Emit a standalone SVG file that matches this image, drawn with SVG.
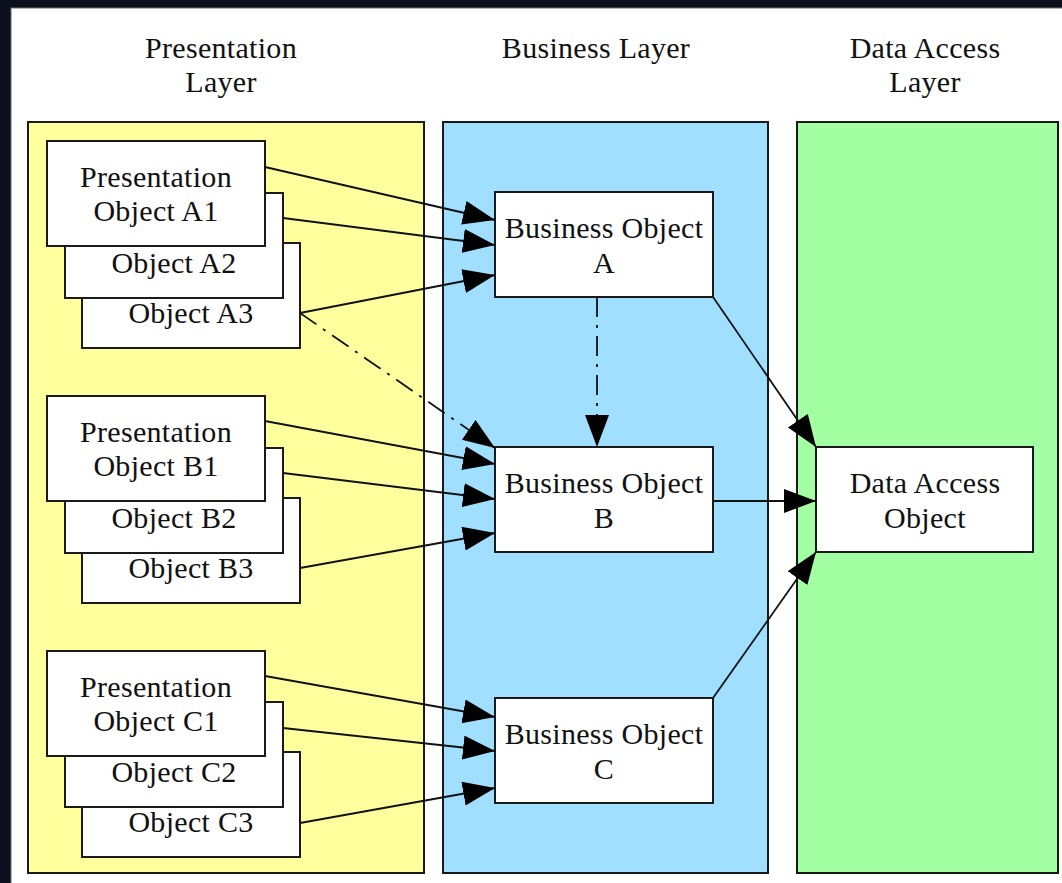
<svg xmlns="http://www.w3.org/2000/svg" width="1062" height="883" viewBox="0 0 1062 883">
  <style>
    .panel { stroke: #1a1a1a; stroke-width: 2; }
    .box { fill: #ffffff; stroke: #1a1a1a; stroke-width: 2; }
    .t { font-family: "Liberation Serif", "Times New Roman", serif; font-size: 30px; fill: #111; text-anchor: middle; letter-spacing: 0.3px; }
    .c { fill: none; stroke: #111; stroke-width: 1.8; }
    .dd { stroke-dasharray: 20 8 3 8; }
  </style>
  <defs>
    <marker id="arr" markerUnits="userSpaceOnUse" markerWidth="34" markerHeight="26" refX="32" refY="12" orient="auto">
      <path d="M0,0 L32,12 L0,24 Z" fill="#000"/>
    </marker>
  </defs>

  <!-- background -->
  <rect x="0" y="0" width="1062" height="883" fill="#0b101c"/>
  <rect x="11" y="8" width="1052" height="876" fill="#ffffff" stroke="#6b6b6b" stroke-width="1"/>

  <!-- layer headers -->
  <g id="hdr-presentation">
    <text class="t" x="221" y="58">Presentation</text>
    <text class="t" x="221" y="92">Layer</text>
  </g>
  <g id="hdr-business">
    <text class="t" x="596" y="58">Business Layer</text>
  </g>
  <g id="hdr-data">
    <text class="t" x="925" y="58">Data Access</text>
    <text class="t" x="925" y="92">Layer</text>
  </g>

  <!-- panels -->
  <g id="panel-presentation"><rect class="panel" x="28" y="122" width="396" height="751" fill="#ffff9e"/></g>
  <g id="panel-business"><rect class="panel" x="443" y="122" width="325" height="751" fill="#a0dfff"/></g>
  <g id="panel-data"><rect class="panel" x="797" y="122" width="261" height="751" fill="#a2ffa2"/></g>

  <!-- presentation objects group A -->
  <g id="pres-a3"><rect class="box" x="82" y="243" width="218" height="105"/><text class="t" x="191" y="323">Object A3</text></g>
  <g id="pres-a2"><rect class="box" x="65" y="193" width="218" height="105"/><text class="t" x="174" y="273">Object A2</text></g>
  <g id="pres-a1"><rect class="box" x="47" y="141" width="218" height="105"/><text class="t" x="156" y="187">Presentation</text><text class="t" x="156" y="221">Object A1</text></g>

  <!-- group B -->
  <g id="pres-b3"><rect class="box" x="82" y="498" width="218" height="105"/><text class="t" x="191" y="578">Object B3</text></g>
  <g id="pres-b2"><rect class="box" x="65" y="448" width="218" height="105"/><text class="t" x="174" y="528">Object B2</text></g>
  <g id="pres-b1"><rect class="box" x="47" y="396" width="218" height="105"/><text class="t" x="156" y="442">Presentation</text><text class="t" x="156" y="476">Object B1</text></g>

  <!-- group C -->
  <g id="pres-c3"><rect class="box" x="82" y="752" width="218" height="105"/><text class="t" x="191" y="832">Object C3</text></g>
  <g id="pres-c2"><rect class="box" x="65" y="702" width="218" height="105"/><text class="t" x="174" y="782">Object C2</text></g>
  <g id="pres-c1"><rect class="box" x="47" y="651" width="218" height="105"/><text class="t" x="156" y="697">Presentation</text><text class="t" x="156" y="731">Object C1</text></g>

  <!-- business objects -->
  <g id="bus-a"><rect class="box" x="495" y="192" width="218" height="105"/><text class="t" x="604" y="238">Business Object</text><text class="t" x="604" y="273">A</text></g>
  <g id="bus-b"><rect class="box" x="495" y="447" width="218" height="105"/><text class="t" x="604" y="493">Business Object</text><text class="t" x="604" y="528">B</text></g>
  <g id="bus-c"><rect class="box" x="495" y="698" width="218" height="105"/><text class="t" x="604" y="744">Business Object</text><text class="t" x="604" y="779">C</text></g>

  <!-- data access object -->
  <g id="dao"><rect class="box" x="816" y="447" width="217" height="105"/><text class="t" x="925" y="493">Data Access</text><text class="t" x="925" y="528">Object</text></g>

  <!-- connectors -->
  <g id="connectors">
    <line class="c" x1="265" y1="167" x2="495" y2="220" marker-end="url(#arr)"/>
    <line class="c" x1="283" y1="218" x2="495" y2="245" marker-end="url(#arr)"/>
    <line class="c" x1="300" y1="313" x2="495" y2="275" marker-end="url(#arr)"/>
    <line class="c dd" x1="300" y1="313" x2="495" y2="448" marker-end="url(#arr)"/>

    <line class="c" x1="265" y1="421" x2="495" y2="464" marker-end="url(#arr)"/>
    <line class="c" x1="283" y1="473" x2="495" y2="499" marker-end="url(#arr)"/>
    <line class="c" x1="300" y1="568" x2="495" y2="533" marker-end="url(#arr)"/>

    <line class="c" x1="265" y1="676" x2="495" y2="717" marker-end="url(#arr)"/>
    <line class="c" x1="283" y1="728" x2="495" y2="751" marker-end="url(#arr)"/>
    <line class="c" x1="300" y1="823" x2="495" y2="788" marker-end="url(#arr)"/>

    <line class="c dd" x1="597" y1="297" x2="597" y2="447" marker-end="url(#arr)"/>

    <line class="c" x1="713" y1="297" x2="816" y2="447" marker-end="url(#arr)"/>
    <line class="c" x1="713" y1="501" x2="816" y2="501" marker-end="url(#arr)"/>
    <line class="c" x1="713" y1="698" x2="816" y2="552" marker-end="url(#arr)"/>
  </g>
</svg>
